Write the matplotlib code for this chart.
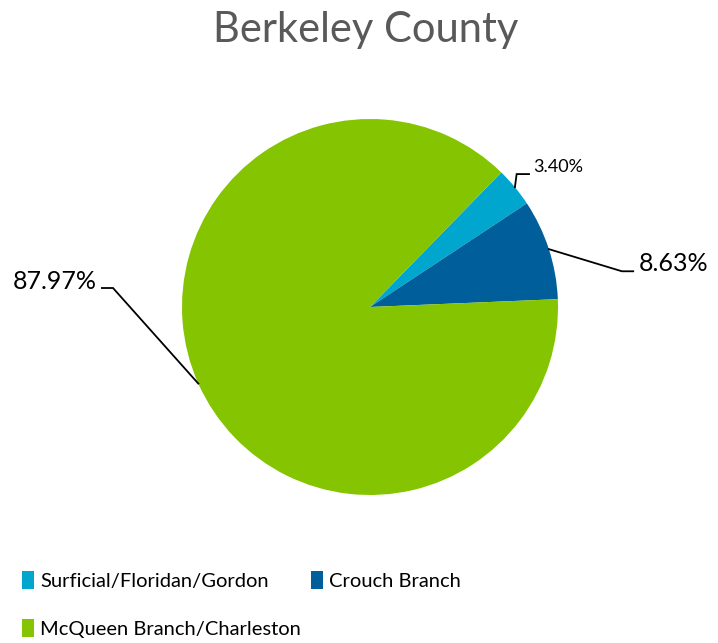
import numpy as np
import matplotlib
matplotlib.use("Agg")
import matplotlib.pyplot as plt
from matplotlib.patches import Patch

plt.rcParams['font.family'] = ['Lato', 'DejaVu Sans']

# data
labels = ['Surficial/Floridan/Gordon', 'Crouch Branch', 'McQueen Branch/Charleston']
shares = [3.40, 8.63, 87.97]
colors = ['#00A6CE', '#005F9A', '#84C400']
pct_text = ['3.40%', '8.63%', '87.97%']

W, H = 718, 643
fig = plt.figure(figsize=(W / 100, H / 100), dpi=100)

# pie centre and radius in pixels
cx, cy, r = 370, 307, 188
ax = fig.add_axes([(cx - r) / W, (H - cy - r) / H, 2 * r / W, 2 * r / H])
wedges, _ = ax.pie(shares, colors=colors, startangle=45.7, counterclock=False,
                   radius=1, wedgeprops=dict(linewidth=0))
ax.set_xlim(-1, 1)
ax.set_ylim(-1, 1)
ax.axis('off')

# label layout: knee point, line end, text anchor (in pie radius units)
knees = [(0.78, 0.707), (1.34, 0.19), (-1.367, 0.101)]
ends = [(0.846, 0.707), (1.40, 0.19), (-1.426, 0.101)]
txt_pos = [(0.867, 0.745), (1.43, 0.234), (-1.452, 0.138)]
txt_ha = ['left', 'left', 'right']
txt_size = [13, 18, 18]

for w, k, e, tp, ha, fs, s in zip(wedges, knees, ends, txt_pos, txt_ha, txt_size, pct_text):
    mid = np.deg2rad((w.theta1 + w.theta2) / 2)
    x0, y0 = np.cos(mid), np.sin(mid)
    ax.plot([x0, k[0], e[0]], [y0, k[1], e[1]], color='black', lw=1.3,
            clip_on=False, solid_joinstyle='miter')
    ax.text(tp[0], tp[1], s, ha=ha, va='center', fontsize=fs, color='black',
            clip_on=False)

fig.text(366 / W, 1 - 30 / H, 'Berkeley County', ha='center', va='center',
         fontsize=30, color='#595959')

# legend fills column-wise, so reorder to get row order like the original
order = [0, 2, 1]
handles = [Patch(facecolor=colors[i], edgecolor='none') for i in order]
fig.legend(handles, [labels[i] for i in order], loc='upper left',
           bbox_to_anchor=(4 / W, 1 - 553 / H),
           ncol=2, frameon=False, fontsize=14.5, handlelength=0.6, handleheight=1.0,
           handletextpad=0.3, columnspacing=0.5, labelspacing=1.45)

fig.savefig('out.png', dpi=100, facecolor='white')
